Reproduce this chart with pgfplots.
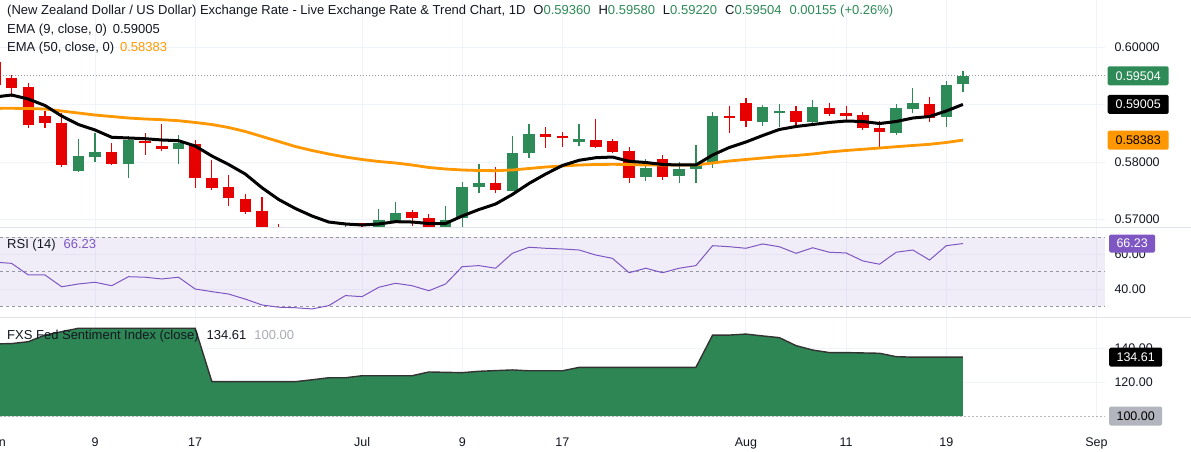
\documentclass[border=0pt]{standalone}
\usepackage{pgfplots}
\pgfplotsset{compat=1.18}
\usepackage{pgfplotstable}
\usepackage{fontspec}
\setmainfont{Liberation Sans}

\definecolor{tvgreen}{HTML}{2E8B57}
\definecolor{tvred}{HTML}{E60000}
\definecolor{tvorange}{HTML}{FF9800}
\definecolor{tvpurple}{HTML}{7E57C2}
\definecolor{tvgrid}{HTML}{F0F3FA}
\definecolor{tvtext}{HTML}{131722}
\definecolor{tvdash}{HTML}{9598A1}
\definecolor{tvsep}{HTML}{E0E3EB}
\definecolor{fedgreen}{HTML}{2E8655}
\definecolor{tvgrey}{HTML}{B2B5BE}

\pgfplotstableread{
i o h l c e9 e50 rsi fed
-1 0.59744 0.59790 0.59300 0.59343 0.59134 0.58936 55.5 142.4
0 0.59460 0.59517 0.59139 0.59286 0.59169 0.58937 54.8 142.6
1 0.59314 0.59383 0.58589 0.58646 0.59099 0.58934 48.1 143.7
2 0.58808 0.58895 0.58589 0.58676 0.58986 0.58925 48.1 147.6
3 0.58686 0.58850 0.57919 0.57949 0.58803 0.58890 41.3 149.6
4 0.57850 0.58397 0.57832 0.58106 0.58655 0.58855 42.9 151.6
5 0.58094 0.58512 0.58006 0.58170 0.58559 0.58820 43.9 151.6
6 0.58170 0.58338 0.57950 0.57961 0.58432 0.58794 41.9 151.6
7 0.57966 0.58454 0.57717 0.58385 0.58420 0.58768 47.1 151.6
8 0.58373 0.58512 0.58123 0.58338 0.58407 0.58751 46.8 151.6
9 0.58285 0.58664 0.58198 0.58233 0.58385 0.58739 45.8 151.6
10 0.58233 0.58472 0.57966 0.58338 0.58373 0.58721 46.8 151.6
11 0.58315 0.58385 0.57543 0.57728 0.58280 0.58690 40.0 151.6
12 0.57728 0.58036 0.57512 0.57553 0.58106 0.58655 38.5 120.2
13 0.57571 0.57775 0.57240 0.57379 0.57958 0.58603 37.1 120.2
14 0.57356 0.57444 0.57094 0.57125 0.57792 0.58533 34.2 120.2
15 0.57152 0.57396 0.56700 0.56780 0.57553 0.58446 30.8 120.2
16 0.56780 0.56920 0.56600 0.56680 0.57348 0.58359 29.5 120.2
17 0.56680 0.56800 0.56500 0.56580 0.57191 0.58271 29.2 120.2
18 0.56580 0.56750 0.56480 0.56650 0.57060 0.58202 28.5 121.3
19 0.56650 0.56800 0.56520 0.56700 0.56955 0.58141 30.4 122.5
20 0.56720 0.56940 0.56600 0.56850 0.56921 0.58088 36.2 122.5
21 0.56932 0.56943 0.56800 0.56903 0.56903 0.58045 35.6 123.7
22 0.56870 0.57176 0.56800 0.56990 0.56921 0.58010 41.0 123.7
23 0.56977 0.57309 0.56932 0.57117 0.56961 0.57984 43.3 123.7
24 0.57124 0.57165 0.56885 0.57020 0.56955 0.57949 41.9 123.7
25 0.57030 0.57094 0.56850 0.56873 0.56929 0.57906 39.0 125.9
26 0.56870 0.57234 0.56800 0.56990 0.56929 0.57879 42.9 125.7
27 0.57020 0.57658 0.56873 0.57571 0.57060 0.57862 52.9 125.5
28 0.57560 0.57966 0.57466 0.57630 0.57173 0.57853 53.5 126.3
29 0.57630 0.57909 0.57455 0.57513 0.57269 0.57850 52.0 126.7
30 0.57501 0.58454 0.57490 0.58153 0.57435 0.57862 60.6 127.1
31 0.58163 0.58664 0.58066 0.58489 0.57627 0.57888 64.1 126.6
32 0.58489 0.58606 0.58240 0.58432 0.57792 0.57914 63.5 126.6
33 0.58454 0.58530 0.58268 0.58432 0.57940 0.57932 63.1 126.6
34 0.58350 0.58664 0.58280 0.58402 0.58031 0.57949 62.5 128.6
35 0.58385 0.58750 0.58240 0.58257 0.58076 0.57958 59.6 128.6
36 0.58367 0.58397 0.58153 0.58170 0.58088 0.57961 57.7 128.6
37 0.58190 0.58257 0.57630 0.57728 0.58013 0.57958 49.4 128.6
38 0.57735 0.58048 0.57675 0.57902 0.57993 0.57949 52.0 128.6
39 0.58048 0.58123 0.57690 0.57735 0.57958 0.57949 49.4 128.6
40 0.57762 0.58006 0.57630 0.57879 0.57949 0.57949 52.0 128.6
41 0.57873 0.58298 0.57630 0.57966 0.57949 0.57949 53.5 128.6
42 0.57966 0.58878 0.57891 0.58808 0.58123 0.57984 65.0 147.6
43 0.58808 0.58977 0.58512 0.58763 0.58254 0.58019 64.4 147.6
44 0.59035 0.59112 0.58617 0.58721 0.58350 0.58045 63.5 148.2
45 0.58704 0.58995 0.58629 0.58965 0.58463 0.58071 66.0 147.1
46 0.58873 0.59012 0.58617 0.58890 0.58568 0.58097 64.4 146.1
47 0.58890 0.58977 0.58617 0.58704 0.58620 0.58115 60.6 141.4
48 0.58704 0.59082 0.58664 0.58965 0.58655 0.58141 63.8 138.8
49 0.58948 0.59035 0.58803 0.58833 0.58690 0.58176 61.2 137.3
50 0.58850 0.58977 0.58721 0.58808 0.58716 0.58202 60.8 137.3
51 0.58821 0.58878 0.58560 0.58600 0.58707 0.58223 56.2 137.1
52 0.58600 0.58721 0.58228 0.58520 0.58672 0.58245 54.3 136.9
53 0.58512 0.59012 0.58472 0.58937 0.58707 0.58268 61.2 134.9
54 0.58930 0.59286 0.58861 0.59035 0.58768 0.58289 62.5 134.61
55 0.59012 0.59129 0.58704 0.58763 0.58794 0.58310 56.7 134.61
56 0.58791 0.59418 0.58606 0.59349 0.58890 0.58341 65.0 134.61
57 0.59360 0.59580 0.59220 0.59504 0.59005 0.58383 66.23 134.61
}\data

\pgfplotsset{
  tvaxis/.style={
    scale only axis, width=1105pt, xmin=-0.695, xmax=65.51,
    anchor=south west,
    axis line style={draw=none}, major tick length=0pt,
    xmajorgrids, ymajorgrids,
    grid style={draw=tvgrid, line width=1pt},
    xtick={5,11,21,27,33,44,50,56,65},
    yticklabel pos=right,
    tick label style={font=\fontsize{12.5}{14}\selectfont, text=tvtext},
    yticklabel style={anchor=west, xshift=6pt},
    clip mode=individual,
  },
  candle/.style={draw=none, mark=none, forget plot,
    error bars/.cd, y dir=both, y explicit, error mark=none},
}
\tikzset{
  tag/.style={anchor=west, inner sep=0pt, minimum height=19pt,
    rounded corners=1.5pt, font=\fontsize{12.5}{14}\selectfont},
}

\begin{document}
\begin{tikzpicture}[every node/.style={font=\fontsize{13}{15}\selectfont, text=tvtext}]
\path[use as bounding box, fill=white] (0pt,0pt) rectangle (1191pt,452pt);

% ---------------- price pane
\begin{axis}[tvaxis, at={(0pt,224pt)}, height=228pt,
  ymin=0.56851, ymax=0.60825,
  ytick={0.57,0.58,0.59,0.60},
  yticklabels={0.57000,0.58000,0.59000,0.60000},
  xticklabels={}]
\addplot[forget plot, draw=tvdash, line width=0.8pt, dash pattern=on 1pt off 2pt] coordinates {(-0.695,0.59504) (65.51,0.59504)};
% wicks
\addplot[candle, error bar style={draw=tvgreen, line width=1.2pt}] table[x=i,
  y expr={\thisrow{c}>=\thisrow{o} ? (\thisrow{h}+\thisrow{l})/2 : nan},
  y error expr={(\thisrow{h}-\thisrow{l})/2}] {\data};
\addplot[candle, error bar style={draw=tvred, line width=1.2pt}] table[x=i,
  y expr={\thisrow{c}<\thisrow{o} ? (\thisrow{h}+\thisrow{l})/2 : nan},
  y error expr={(\thisrow{h}-\thisrow{l})/2}] {\data};
% bodies
\addplot[candle, error bar style={draw=tvgreen, line width=11.5pt}] table[x=i,
  y expr={\thisrow{c}>=\thisrow{o} ? (\thisrow{o}+\thisrow{c})/2 : nan},
  y error expr={max(abs(\thisrow{c}-\thisrow{o})/2,0.00009)}] {\data};
\addplot[candle, error bar style={draw=tvred, line width=11.5pt}] table[x=i,
  y expr={\thisrow{c}<\thisrow{o} ? (\thisrow{o}+\thisrow{c})/2 : nan},
  y error expr={max(abs(\thisrow{c}-\thisrow{o})/2,0.00009)}] {\data};
% EMAs
\addplot[tvorange, line width=2.8pt, mark=none] table[x=i, y=e50] {\data};
\addplot[black, line width=3pt, mark=none] table[x=i, y=e9] {\data};
\coordinate (tagA) at (axis cs:65.51,0.59504);
\coordinate (tagB) at (axis cs:65.51,0.59005);
\coordinate (tagC) at (axis cs:65.51,0.58383);
\end{axis}

% ---------------- RSI pane
\begin{axis}[tvaxis, at={(0pt,134pt)}, height=90pt,
  ymin=23.28, ymax=75.2,
  ytick={40,60}, yticklabels={40.00,60.00},
  xticklabels={}]
\fill[tvpurple, fill opacity=0.1] (axis cs:-0.695,30) rectangle (axis cs:65.51,70);
\draw[tvdash, line width=0.8pt, dash pattern=on 3pt off 3pt] (axis cs:-0.695,70) -- (axis cs:65.51,70);
\draw[tvdash, line width=0.8pt, dash pattern=on 3pt off 3pt] (axis cs:-0.695,50) -- (axis cs:65.51,50);
\draw[tvdash, line width=0.8pt, dash pattern=on 3pt off 3pt] (axis cs:-0.695,30) -- (axis cs:65.51,30);
\addplot[tvpurple, line width=1pt, mark=none] table[x=i, y=rsi] {\data};
\coordinate (tagR) at (axis cs:65.51,66.23);
\end{axis}

% ---------------- Fed sentiment pane
\begin{axis}[tvaxis, at={(0pt,32pt)}, height=102pt,
  ymin=97.65, ymax=157.65,
  ytick={120,140}, yticklabels={120.00,140.00},
  xticklabels={9,17,Jul,9,17,Aug,11,19,Sep},
  xticklabel style={anchor=north, yshift=-14pt}]
\addplot[fill=fedgreen, draw=none, forget plot] table[x=i, y=fed] {\data} -- (axis cs:57,100) -- (axis cs:-1,100) -- cycle;
\draw[tvdash!70, line width=0.6pt, dash pattern=on 2pt off 2pt] (axis cs:-0.695,100) -- (axis cs:65.51,100);
\addplot[black!80, line width=1.4pt, mark=none] table[x=i, y=fed] {\data};
\node[anchor=north, yshift=-14pt, font=\fontsize{12.5}{14}\selectfont] at (axis cs:-0.95,97.65) {Jun};
\coordinate (tagF) at (axis cs:65.51,134.61);
\coordinate (tagG) at (axis cs:65.51,100);
\end{axis}

% separators
\draw[tvsep, line width=1pt] (0pt,224pt) -- (1191pt,224pt);
\draw[tvsep, line width=1pt] (0pt,134pt) -- (1191pt,134pt);

% tags
\node[tag, fill=tvgreen, minimum width=61pt, text=white] at ([xshift=2.5pt]tagA) {0.59504};
\node[tag, fill=black, minimum width=61pt, text=white] at ([xshift=2.5pt]tagB) {0.59005};
\node[tag, fill=tvorange, minimum width=61pt, text=black] at ([xshift=2.5pt]tagC) {0.58383};
\node[tag, fill=tvpurple, minimum width=46pt, minimum height=18pt, text=white] at ([xshift=4pt]tagR) {66.23};
\node[tag, fill=black, minimum width=53pt, text=white] at ([xshift=4pt]tagF) {134.61};
\node[tag, fill=tvgrey, minimum width=53pt, text=black] at ([xshift=4pt]tagG) {100.00};

% legends
\node[anchor=west, inner sep=0pt] at (7pt,440.5pt) {(New Zealand Dollar / US Dollar) Exchange Rate - Live Exchange Rate \& Trend Chart, 1D\hspace{8pt}O{\color{tvgreen}0.59360}\hspace{8pt}H{\color{tvgreen}0.59580}\hspace{8pt}L{\color{tvgreen}0.59220}\hspace{8pt}C{\color{tvgreen}0.59504}\hspace{8pt}{\color{tvgreen}0.00155 (+0.26\%)}};
\node[anchor=west, inner sep=0pt] at (7pt,422pt) {EMA (9, close, 0)\hspace{6pt}0.59005};
\node[anchor=west, inner sep=0pt] at (7pt,404pt) {EMA (50, close, 0)\hspace{6pt}{\color{tvorange}0.58383}};
\node[anchor=west, inner sep=0pt] at (7pt,207pt) {RSI (14)\hspace{8pt}{\color{tvpurple}66.23}};
\node[anchor=west, inner sep=0pt] at (7pt,116pt) {FXS Fed Sentiment Index (close)\hspace{8pt}134.61\hspace{8pt}{\color{tvdash!80}100.00}};
\end{tikzpicture}
\end{document}
